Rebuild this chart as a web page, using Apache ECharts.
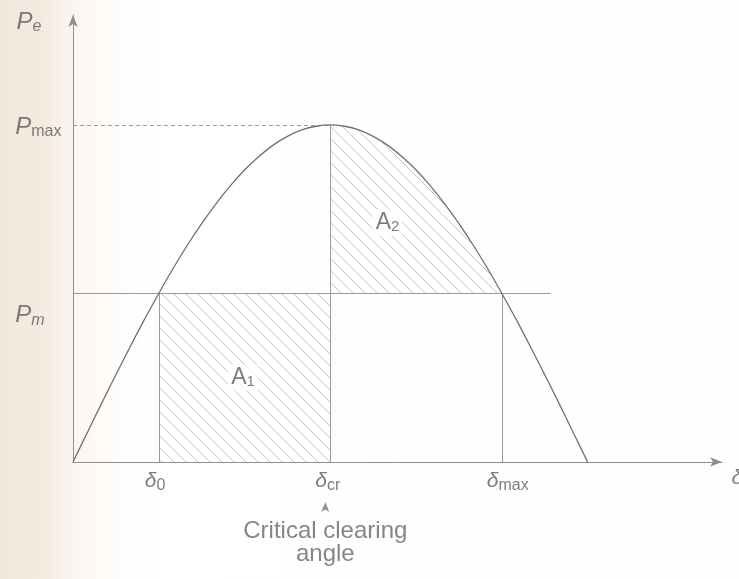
<!DOCTYPE html>
<html><head><meta charset="utf-8">
<script src="https://cdn.jsdelivr.net/npm/echarts@6/dist/echarts.min.js"></script>
<style>html,body{margin:0;padding:0;background:#fff}#c{width:739px;height:579px}</style>
</head><body><div id="c"></div>
<script>
// ---- data ----
const deltaDeg = [0,5,10,15,20,25,30,35,40,45,50,55,60,65,70,75,80,85,90,
                  95,100,105,110,115,120,125,130,135,140,145,150,155,160,165,170,175,180];
const powerPe  = [0,0.087,0.174,0.259,0.342,0.423,0.500,0.574,0.643,0.707,0.766,0.819,0.866,0.906,0.940,0.966,0.985,0.996,1.000,
                  0.996,0.985,0.966,0.940,0.906,0.866,0.819,0.766,0.707,0.643,0.574,0.500,0.423,0.342,0.259,0.174,0.087,0];
const pm = 0.5;
const pmax = 1.0;
const delta0 = 30;
const deltaCr = 90;
const deltaMax = 150;
const pmLineEnd = 167;
const xAxisMax = 227;
const yAxisMax = 1.326;
const areaNames = ['1', '2'];
const areaLabelAt = [[59.5, 0.25], [110, 0.71]];

const TXT = '#5c5c5c';
const FONT = 'Liberation Sans';

function hatchCanvas(){
  const n = 12;
  const c = document.createElement('canvas');
  c.width = n; c.height = n;
  const g = c.getContext('2d');
  g.strokeStyle = '#b8b8b8'; g.lineWidth = 0.8;
  g.beginPath();
  g.moveTo(-2,-2); g.lineTo(n+2,n+2);
  g.moveTo(-2,n-2); g.lineTo(2,n+2);
  g.moveTo(n-2,-2); g.lineTo(n+2,2);
  g.stroke();
  return c;
}
const hatch = {image: hatchCanvas(), repeat: 'repeat'};

const curve = deltaDeg.map((d,i)=>[d, powerPe[i]]);
const a2 = curve.filter(p => p[0] >= deltaCr && p[0] <= deltaMax);
const a1 = [[delta0, pm],[deltaCr, pm]];

const rich = {
  p:  {fontSize: 24, fontStyle: 'italic', fontFamily: FONT, color: TXT},
  s:  {fontSize: 16, fontFamily: FONT, color: TXT, padding: [10,0,0,0]},
  si: {fontSize: 16, fontStyle: 'italic', fontFamily: FONT, color: TXT, padding: [10,0,0,0]},
  d:  {fontSize: 21, fontStyle: 'italic', fontFamily: FONT, color: TXT},
  ds: {fontSize: 16, fontFamily: FONT, color: TXT, padding: [8,0,0,0]},
  a:  {fontSize: 23, fontFamily: FONT, color: '#5e5e5e'},
  as: {fontSize: 15, fontFamily: FONT, color: '#5e5e5e', padding: [9,0,0,0]}
};

const areaLabelData = areaNames.map((n,i)=>({
  value: areaLabelAt[i],
  label: {formatter: '{a|A}{as|' + n + '}', position: 'inside', align: 'center', verticalAlign: 'middle',
          backgroundColor: '#ffffff', padding: [1, 3]}
}));

const chart = echarts.init(document.getElementById('c'), null, {renderer: 'canvas'});
chart.setOption({
  animation: false,
  backgroundColor: new echarts.graphic.LinearGradient(0,0,1,0,[
    {offset:0, color:'#f2e7db'},
    {offset:0.06, color:'#f4ebe1'},
    {offset:0.09, color:'#f9f4ee'},
    {offset:0.15, color:'#fefcfa'},
    {offset:0.22, color:'#ffffff'},
    {offset:1, color:'#fffefd'}
  ]),
  grid: {left: 73, right: 17, top: 15, bottom: 117},
  xAxis: {
    type: 'value', min: 0, max: xAxisMax,
    axisLine: {show: true, onZero: false, symbol: ['none','arrow'], symbolSize: [7,12],
               lineStyle: {color: '#8e8e8e', width: 1}},
    axisTick: {show: false}, axisLabel: {show: false}, splitLine: {show: false}
  },
  yAxis: {
    type: 'value', min: 0, max: yAxisMax,
    axisLine: {show: true, onZero: false, symbol: ['none','arrow'], symbolSize: [7,12],
               lineStyle: {color: '#8e8e8e', width: 1}},
    axisTick: {show: false}, axisLabel: {show: false}, splitLine: {show: false}
  },
  series: [
    {
      name: 'A1', type: 'line', data: a1, symbol: 'none', z: 1,
      lineStyle: {opacity: 0}, areaStyle: {color: hatch, opacity: 1}
    },
    {
      name: 'A2', type: 'line', data: a2, symbol: 'none', smooth: 0.3, z: 1,
      lineStyle: {opacity: 0}, areaStyle: {color: hatch, opacity: 1, origin: pm}
    },
    {
      name: 'Pe', type: 'line', data: curve, symbol: 'none', smooth: 0.3, z: 5,
      lineStyle: {color: '#707070', width: 1.3},
      markLine: {
        silent: true, symbol: ['none','none'], label: {show: false},
        lineStyle: {color: '#9a9a9a', width: 1, type: 'solid'},
        data: [
          [{coord: [0, pm]}, {coord: [pmLineEnd, pm]}],
          [{coord: [0, pmax], lineStyle: {type: [4,3], color: '#9a9a9a'}}, {coord: [deltaCr, pmax]}],
          [{coord: [delta0, 0]}, {coord: [delta0, pm]}],
          [{coord: [deltaCr, 0]}, {coord: [deltaCr, pmax]}],
          [{coord: [deltaMax, 0]}, {coord: [deltaMax, pm]}]
        ]
      }
    },
    {
      name: 'labels', type: 'scatter', clip: false, z: 6, silent: true,
      symbolSize: 1, itemStyle: {color: 'rgba(0,0,0,0)'},
      label: {show: true, rich: rich, color: TXT, fontFamily: FONT},
      data: [
        {value: [delta0, 0], label: {formatter: '{d|δ}{ds|0}', position: 'bottom', align: 'left', distance: 7, offset: [-14, 0]}},
        {value: [deltaCr, 0], label: {formatter: '{d|δ}{ds|cr}', position: 'bottom', align: 'left', distance: 7, offset: [-15, 0]}},
        {value: [deltaMax, 0], label: {formatter: '{d|δ}{ds|max}', position: 'bottom', align: 'left', distance: 7, offset: [-15, 0]}},
        {value: [deltaCr, 0], symbol: 'arrow', symbolSize: [6, 10], symbolOffset: [-5, 40],
         itemStyle: {color: '#777'}, label: {show: false}},
        {value: [deltaCr, 0], label: {formatter: 'Critical clearing\nangle', position: 'bottom', align: 'center',
          distance: 57, offset: [-5, 0], fontSize: 24, lineHeight: 23, color: '#666', fontFamily: FONT}},
        {value: [0, yAxisMax], label: {formatter: '{p|P}{si|e}', position: 'left', distance: 31, offset: [0, 7]}},
        {value: [0, pmax], label: {formatter: '{p|P}{s|max}', position: 'left', distance: 11, offset: [0, 2]}},
        {value: [0, pm], label: {formatter: '{p|P}{si|m}', position: 'left', distance: 28, offset: [0, 22]}},
        {value: [xAxisMax, 0], label: {formatter: '{d|δ}', position: 'right', distance: 9, offset: [0, 16]}}
      ].concat(areaLabelData)
    }
  ]
});
</script>
</body></html>
